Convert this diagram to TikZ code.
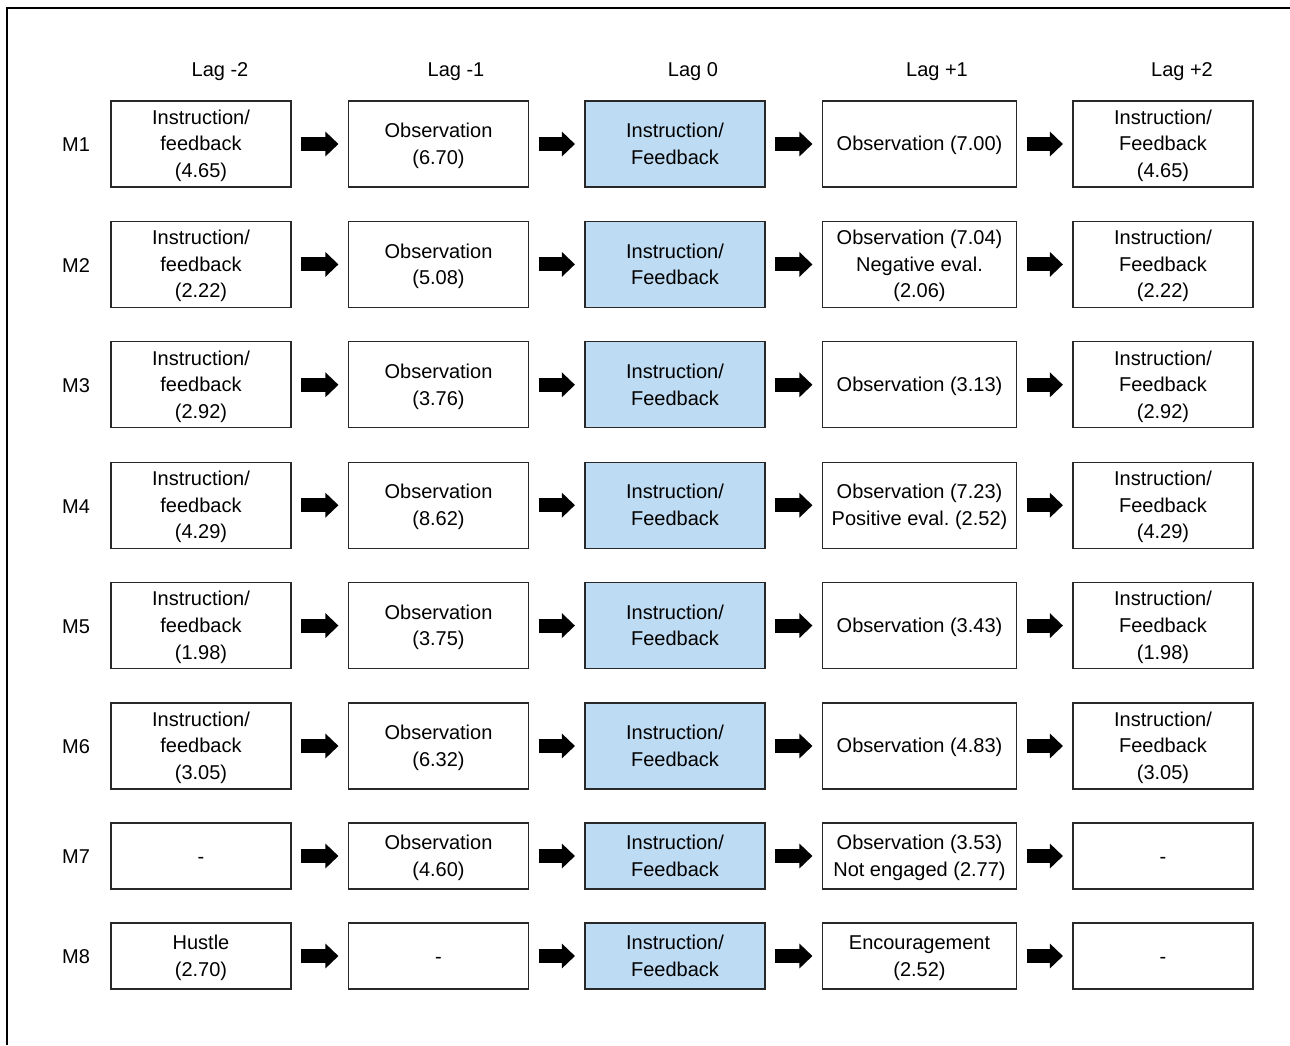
\documentclass[tikz,border=0pt]{standalone}
\usepackage{fontspec}
\setmainfont{Liberation Sans}
\usetikzlibrary{arrows.meta,positioning}
\definecolor{lagblue}{RGB}{189,219,243}
\definecolor{boxline}{RGB}{40,40,40}
\newcommand{\ks}{\rule[-4pt]{0pt}{22pt}}
\tikzset{
  cell/.style={draw=boxline, line width=1.1pt, fill=white, minimum width=180pt, minimum height=86pt, inner sep=0pt, align=center, font=\fontsize{20}{26.6}\selectfont\frenchspacing},
  widecell/.style={cell, minimum width=194pt},
  shortcell/.style={minimum height=66pt},
  focus/.style={fill=lagblue},
  hdr/.style={font=\fontsize{20}{24}\selectfont, inner sep=0pt},
  flow/.style={line width=14pt, shorten <=9.5pt, shorten >=9.5pt, -{Triangle[length=13pt,width=24pt]}, black}
}
\begin{document}
\begin{tikzpicture}[x=1pt,y=-1pt]
\useasboundingbox (0,0) rectangle (1290,1045);
\draw[line width=2pt] (7,1045) -- (7,8) -- (1290,8);

% headers
\node[hdr] (h1) at (220,71.5) {Lag -2};
\node[hdr] (h2) at (456,71.5) {Lag -1};
\node[hdr] (h3) at (693,71.5) {Lag 0};
\node[hdr] (h4) at (937,71.5) {Lag +1};
\node[hdr] (h5) at (1182,71.5) {Lag +2};

% row labels
\node[hdr] (m1) at (76,145) {M1};
\node[hdr] (m2) at (76,265.4) {M2};
\node[hdr] (m3) at (76,385.8) {M3};
\node[hdr] (m4) at (76,506.2) {M4};
\node[hdr] (m5) at (76,626.6) {M5};
\node[hdr] (m6) at (76,747) {M6};
\node[hdr] (m7) at (76,857) {M7};
\node[hdr] (m8) at (76,957) {M8};

% M1
\node[cell] (a1) at (201,144) {\ks Instruction/\\\ks feedback\\\ks (4.65)};
\node[cell] (b1) at (438.5,144) {\ks Observation\\\ks (6.70)};
\node[cell,focus] (c1) at (675,144) {\ks Instruction/\\\ks Feedback};
\node[widecell] (d1) at (919.5,144) {\ks Observation (7.00)};
\node[cell] (e1) at (1163,144) {\ks Instruction/\\\ks Feedback\\\ks (4.65)};
% M2
\node[cell] (a2) at (201,264.4) {\ks Instruction/\\\ks feedback\\\ks (2.22)};
\node[cell] (b2) at (438.5,264.4) {\ks Observation\\\ks (5.08)};
\node[cell,focus] (c2) at (675,264.4) {\ks Instruction/\\\ks Feedback};
\node[widecell] (d2) at (919.5,264.4) {\ks Observation (7.04)\\\ks Negative eval.\\\ks (2.06)};
\node[cell] (e2) at (1163,264.4) {\ks Instruction/\\\ks Feedback\\\ks (2.22)};
% M3
\node[cell] (a3) at (201,384.8) {\ks Instruction/\\\ks feedback\\\ks (2.92)};
\node[cell] (b3) at (438.5,384.8) {\ks Observation\\\ks (3.76)};
\node[cell,focus] (c3) at (675,384.8) {\ks Instruction/\\\ks Feedback};
\node[widecell] (d3) at (919.5,384.8) {\ks Observation (3.13)};
\node[cell] (e3) at (1163,384.8) {\ks Instruction/\\\ks Feedback\\\ks (2.92)};
% M4
\node[cell] (a4) at (201,505.2) {\ks Instruction/\\\ks feedback\\\ks (4.29)};
\node[cell] (b4) at (438.5,505.2) {\ks Observation\\\ks (8.62)};
\node[cell,focus] (c4) at (675,505.2) {\ks Instruction/\\\ks Feedback};
\node[widecell] (d4) at (919.5,505.2) {\ks Observation (7.23)\\\ks Positive eval. (2.52)};
\node[cell] (e4) at (1163,505.2) {\ks Instruction/\\\ks Feedback\\\ks (4.29)};
% M5
\node[cell] (a5) at (201,625.6) {\ks Instruction/\\\ks feedback\\\ks (1.98)};
\node[cell] (b5) at (438.5,625.6) {\ks Observation\\\ks (3.75)};
\node[cell,focus] (c5) at (675,625.6) {\ks Instruction/\\\ks Feedback};
\node[widecell] (d5) at (919.5,625.6) {\ks Observation (3.43)};
\node[cell] (e5) at (1163,625.6) {\ks Instruction/\\\ks Feedback\\\ks (1.98)};
% M6
\node[cell] (a6) at (201,746) {\ks Instruction/\\\ks feedback\\\ks (3.05)};
\node[cell] (b6) at (438.5,746) {\ks Observation\\\ks (6.32)};
\node[cell,focus] (c6) at (675,746) {\ks Instruction/\\\ks Feedback};
\node[widecell] (d6) at (919.5,746) {\ks Observation (4.83)};
\node[cell] (e6) at (1163,746) {\ks Instruction/\\\ks Feedback\\\ks (3.05)};
% M7
\node[cell,shortcell] (a7) at (201,856) {\ks -};
\node[cell,shortcell] (b7) at (438.5,856) {\ks Observation\\\ks (4.60)};
\node[cell,shortcell,focus] (c7) at (675,856) {\ks Instruction/\\\ks Feedback};
\node[widecell,shortcell] (d7) at (919.5,856) {\ks Observation (3.53)\\\ks Not engaged (2.77)};
\node[cell,shortcell] (e7) at (1163,856) {\ks -};
% M8
\node[cell,shortcell] (a8) at (201,956) {\ks Hustle\\\ks (2.70)};
\node[cell,shortcell] (b8) at (438.5,956) {\ks -};
\node[cell,shortcell,focus] (c8) at (675,956) {\ks Instruction/\\\ks Feedback};
\node[widecell,shortcell] (d8) at (919.5,956) {\ks Encouragement\\\ks (2.52)};
\node[cell,shortcell] (e8) at (1163,956) {\ks -};

\foreach \r in {1,...,8} {
  \draw[flow] (a\r.east) -- (b\r.west);
  \draw[flow] (b\r.east) -- (c\r.west);
  \draw[flow] (c\r.east) -- (d\r.west);
  \draw[flow] (d\r.east) -- (e\r.west);
}
\end{tikzpicture}
\end{document}
